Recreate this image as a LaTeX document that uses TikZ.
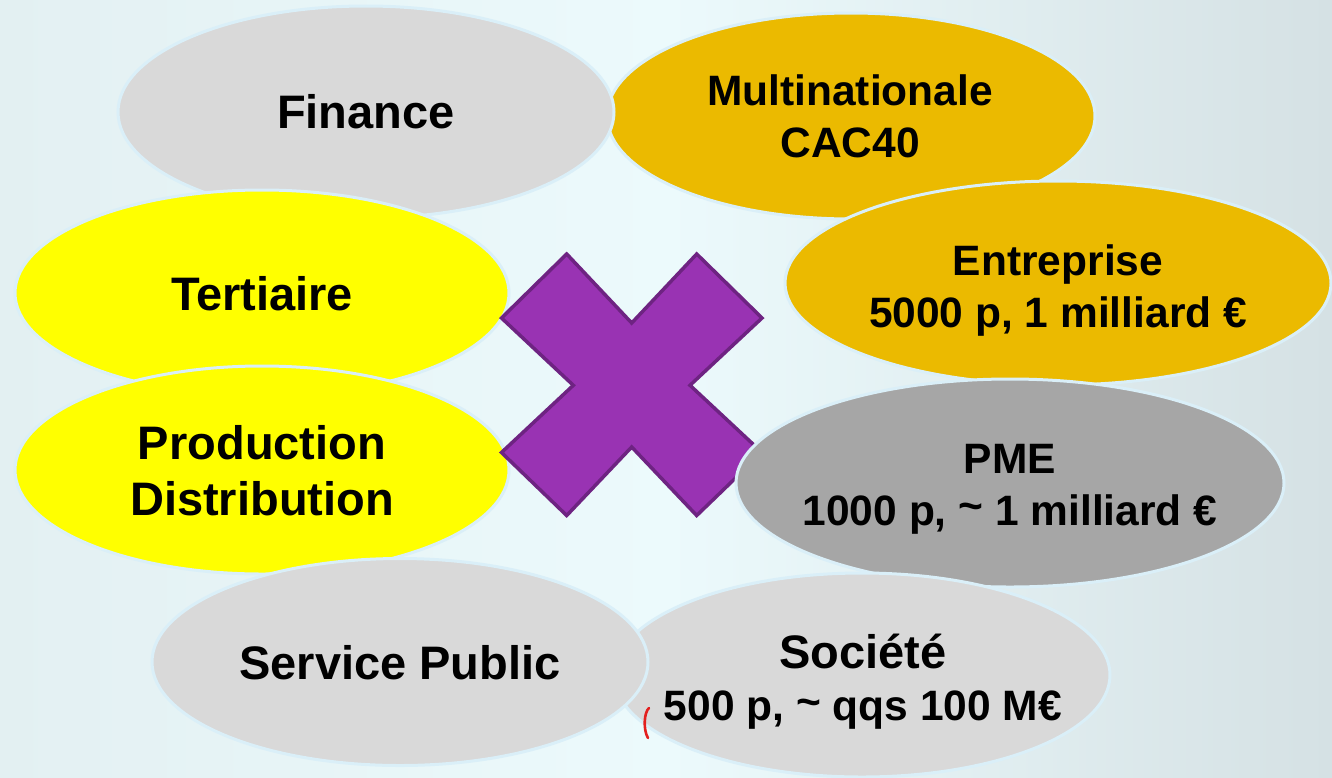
\documentclass[tikz,border=0pt]{standalone}
\usepackage{fontspec}
\setmainfont{Liberation Sans}
\usetikzlibrary{shapes.geometric}
\definecolor{bgL}{HTML}{E3F0F2}
\definecolor{bgM}{HTML}{ECFAFC}
\definecolor{bgR}{HTML}{D5E1E4}
\definecolor{rim}{HTML}{DAEFF8}
\definecolor{lgray}{HTML}{D9D9D9}
\definecolor{dgray}{HTML}{A6A6A6}
\definecolor{gold}{HTML}{EBBA00}
\definecolor{yel}{HTML}{FFFF00}
\definecolor{purp}{HTML}{9933B3}
\definecolor{purpd}{HTML}{6E2382}
\definecolor{penred}{HTML}{E3201F}
\newcommand{\bigf}{\fontsize{47}{56}\selectfont\bfseries}
\newcommand{\smallf}{\fontsize{42.5}{52}\selectfont\bfseries}
\newcommand{\tld}{\raisebox{0.1em}{\char"007E}}
\tikzset{
  blob/.style={ellipse, draw=rim, line width=3pt, inner sep=0pt, outer sep=0pt},
  lbl/.style={align=center, text=black, inner sep=0pt},
  bigtxt/.style={lbl, font=\bigf},
  smalltxt/.style={lbl, font=\smallf},
}
\begin{document}
\begin{tikzpicture}[x=1pt,y=-1pt]
\useasboundingbox (0,0) rectangle (1332,777);
\shade[left color=bgL, right color=bgR, middle color=bgM] (0,0) rectangle (1332,777);

\node[blob, fill=gold, minimum width=488pt, minimum height=206pt] (multi) at (851,116) {};
\node[blob, fill=lgray, minimum width=496pt, minimum height=212pt] (fin) at (366,112) {};
\node[blob, fill=yel, minimum width=494pt, minimum height=206pt] (tert) at (262,293) {};
\node[blob, fill=yel, minimum width=494pt, minimum height=208pt] (prod) at (262,470) {};
\node[blob, fill=gold, minimum width=546pt, minimum height=204pt] (entr) at (1058,283) {};

\draw[fill=purp, draw=purpd, line width=3.5pt, line join=miter]
  (566.7,254) -- (631.7,323) -- (696.7,254) -- (762,318) -- (690,385.3) -- (762,452.5)
  -- (696.7,515.5) -- (631.7,447) -- (566.7,515.5) -- (501.5,452.5) -- (573.3,385.3) -- (501.5,318) -- cycle;

\node[blob, fill=dgray, minimum width=548pt, minimum height=208pt] (pme) at (1010,483) {};
\node[blob, fill=lgray, minimum width=496pt, minimum height=204pt] (soc) at (862,675) {};
\node[blob, fill=lgray, minimum width=496pt, minimum height=207pt] (serv) at (400,662) {};

\node[smalltxt] (multiT) at (850,116) {Multinationale\\CAC40};
\node[bigtxt] (finT) at (366,112) {Finance};
\node[bigtxt] (tertT) at (262,294) {Tertiaire};
\node[bigtxt] (prodT) at (262,471) {Production\\Distribution};
\node[smalltxt] (entrT) at (1058,291) {Entreprise\\5000 p, 1 milliard €};
\node[smalltxt] (pmeT) at (1010,489) {PME\\1000 p, \tld{} 1 milliard €};
\node[smalltxt] (socT) at (863,682) {{\bigf Société}\\500 p, \tld{} qqs 100 M€};
\node[bigtxt] (servT) at (400,663) {Service Public};

\draw[penred, line width=2.6pt, line cap=round] (649,708) .. controls (644,712) and (643,730) .. (648,738);
\end{tikzpicture}
\end{document}
